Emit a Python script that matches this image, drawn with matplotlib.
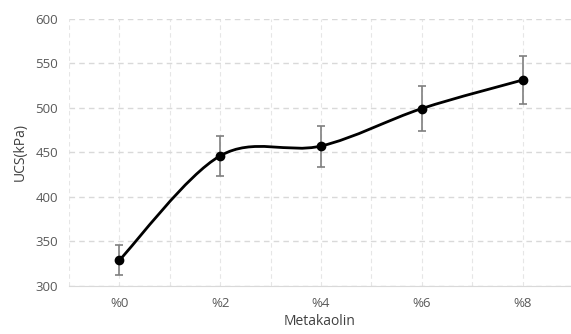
import matplotlib
matplotlib.use("Agg")
import matplotlib.pyplot as plt
import numpy as np
from matplotlib.path import Path
from matplotlib.patches import PathPatch

categories = ["%0", "%2", "%4", "%6", "%8"]
ucs = [329, 446, 457, 499, 531]
err = [17, 22.5, 23, 25, 27]

plt.rcParams['font.family'] = ['Open Sans', 'DejaVu Sans']

fig = plt.figure(figsize=(5.71, 3.34), dpi=100)
ax = fig.add_axes([69/571, (334-286)/334, (571-69)/571, (286-18.5)/334])

x = np.arange(len(categories))
y = np.array(ucs, dtype=float)

# excel-style smoothed line: bezier with catmull-rom control points
pts = np.column_stack([x, y])
verts = [pts[0]]
codes = [Path.MOVETO]
n = len(pts)
for i in range(n - 1):
    p0 = pts[max(i - 1, 0)]
    p1 = pts[i]
    p2 = pts[i + 1]
    p3 = pts[min(i + 2, n - 1)]
    c1 = p1 + (p2 - p0) / 6
    c2 = p2 - (p3 - p1) / 6
    verts += [c1, c2, p2]
    codes += [Path.CURVE4] * 3
ax.add_patch(PathPatch(Path(verts, codes), fc='none', ec='black', lw=2, zorder=3))

ax.errorbar(x, y, yerr=err, fmt='none', ecolor='#7f7f7f', elinewidth=1.2,
            capsize=3, capthick=1.2, zorder=2)
ax.plot(x, y, 'o', color='black', ms=6, zorder=4)

ax.set_xlim(-0.5, 4.48)
ax.set_ylim(300, 600)
ax.set_yticks(range(300, 601, 50))
ax.set_xticks(x)
ax.set_xticklabels(categories)
ax.set_xticks(np.arange(-0.5, 4.5, 1), minor=True)

ax.grid(axis='y', color='#d9d9d9', ls=(0, (4, 3)), lw=1)
ax.grid(axis='x', which='both', color='#e6e6e6', ls=(0, (4, 3)), lw=0.8)
ax.set_axisbelow(True)

for s in ['top', 'right', 'left']:
    ax.spines[s].set_visible(False)
ax.spines['bottom'].set_color('#d9d9d9')
ax.tick_params(axis='both', which='both', length=0, colors='#595959', labelsize=9.5)
ax.tick_params(axis='x', pad=8)
ax.tick_params(axis='y', pad=8)

ax.set_xlabel('Metakaolin', color='#404040', fontsize=10, labelpad=3)
ax.set_ylabel('UCS(kPa)', color='#404040', fontsize=10, labelpad=5)

fig.savefig('out.png', dpi=100)
